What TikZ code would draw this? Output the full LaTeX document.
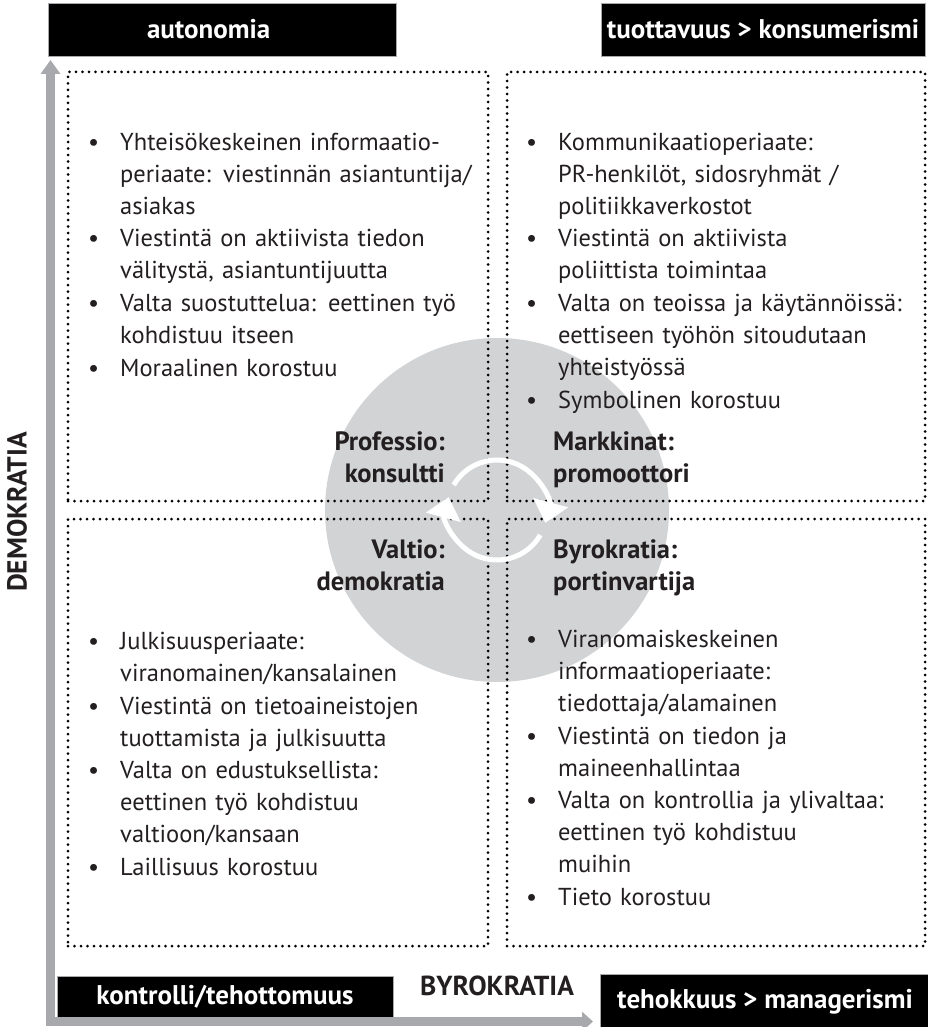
\documentclass[tikz,border=0pt]{standalone}
\usepackage{fontspec}
\setmainfont{PT Sans}
\usepackage{enumitem}
\usetikzlibrary{positioning,arrows.meta,calc}
\definecolor{axisgray}{RGB}{167,169,172}
\definecolor{hubgray}{RGB}{209,211,212}
\definecolor{inktext}{RGB}{35,31,32}
\setlist[itemize]{label=\textbullet, leftmargin=36pt, labelsep=21pt, itemsep=0.8pt, topsep=0pt, parsep=0pt, partopsep=0pt}

\begin{document}
\begin{tikzpicture}[
                x=1pt, y=-1pt,
                font=\fontsize{24.5}{32}\selectfont,
                text=inktext,
                headbox/.style={fill=black, draw=axisgray, line width=0.8pt, text=white, font=\fontsize{27}{30}\selectfont\bfseries, inner sep=0pt},
                quadrant/.style={rectangle, draw=black, line width=3pt, dash pattern=on 0pt off 6.5pt, line cap=round, inner sep=0pt},
                bullets/.style={anchor=north west, inner sep=0pt, text width=420pt, align=left},
                rolelabel/.style={font=\fontsize{26.5}{32.5}\selectfont\bfseries, inner sep=0pt},
                axislabel/.style={font=\fontsize{27.5}{30}\selectfont\bfseries, inner sep=0pt},
                cyclearrow/.style={draw=white, line width=5pt, -{Triangle[width=35pt, length=21pt]}}
                ]
                \useasboundingbox (0,0) rectangle (928,1027);

                % grey disc behind the four fields
                \node[circle, fill=hubgray, minimum size=344pt, inner sep=0pt] (hub) at (497,510) {};

                \node[quadrant, minimum width=420pt, minimum height=429pt] (tl) at (278,286.5) {};
                \node[quadrant, minimum width=418pt, minimum height=429pt] (tr) at (716,286.5) {};
                \node[quadrant, minimum width=420pt, minimum height=427pt] (bl) at (278,732.5) {};
                \node[quadrant, minimum width=418pt, minimum height=427pt] (br) at (716,732.5) {};

                \node[headbox, minimum width=348pt, minimum height=53pt, text width=150pt, inner xsep=99pt, align=left] (autonomia) at (222,29.5) {autonomia};
                \node[headbox, minimum width=324pt, minimum height=53pt] (tuottavuus) at (763,29.5) {tuottavuus > konsumerismi};
                \node[headbox, minimum width=336pt, minimum height=41pt] (kontrolli) at (225,996.5) {kontrolli/tehottomuus};
                \node[headbox, minimum width=330pt, minimum height=56pt] (tehokkuus) at (765,1002) {tehokkuus > managerismi};

                \node[axislabel] (byro) at (497,986) {BYROKRATIA};
                \node[axislabel, rotate=90] (demo) at (17,512) {DEMOKRATIA};

                % L-shaped axis
                \coordinate (ytip) at (50.5,60);
                \coordinate (origin) at (50.5,1021.5);
                \coordinate (xtip) at (593,1021.5);
                \draw[axisgray, line width=9pt, line join=miter, {Triangle[width=19pt, length=14pt]}-{Triangle[width=19pt, length=11pt]}] (ytip) -- (origin) -- (xtip);

                \node[bullets] (tltext) at (84,118) {%
                \begin{itemize}
                \item Yhteisökeskeinen informaatio-\\periaate: viestinnän asiantuntija/\\asiakas
                \item Viestintä on aktiivista tiedon\\välitystä, asiantuntijuutta
                \item Valta suostuttelua: eettinen työ\\kohdistuu itseen
                \item Moraalinen korostuu
                \end{itemize}};
                \node[bullets] (trtext) at (522,118) {%
                \begin{itemize}
                \item Kommunikaatioperiaate:\\PR-henkilöt, sidosryhmät /\\politiikkaverkostot
                \item Viestintä on aktiivista\\poliittista toimintaa
                \item Valta on teoissa ja käytännöissä:\\eettiseen työhön sitoudutaan\\yhteistyössä
                \item Symbolinen korostuu
                \end{itemize}};
                \node[bullets] (bltext) at (84,617) {%
                \begin{itemize}
                \item Julkisuusperiaate:\\viranomainen/kansalainen
                \item Viestintä on tietoaineistojen\\tuottamista ja julkisuutta
                \item Valta on edustuksellista:\\eettinen työ kohdistuu\\valtioon/kansaan
                \item Laillisuus korostuu
                \end{itemize}};
                \node[bullets] (brtext) at (522,615) {%
                \begin{itemize}
                \item Viranomaiskeskeinen\\informaatioperiaate:\\tiedottaja/alamainen
                \item Viestintä on tiedon ja\\maineenhallintaa
                \item Valta on kontrollia ja ylivaltaa:\\eettinen työ kohdistuu\\muihin
                \item Tieto korostuu
                \end{itemize}};

                \node[rolelabel, anchor=north east, align=right] (profession) at (445,431) {Professio:\\konsultti};
                \node[rolelabel, anchor=north west, align=left] (market) at (553,431) {Markkinat:\\promoottori};
                \node[rolelabel, anchor=north east, align=right] (state) at (445,539) {Valtio:\\demokratia};
                \node[rolelabel, anchor=north west, align=left] (bureau) at (553,539) {Byrokratia:\\portinvartija};

                % white cycle in the middle
                \draw[cyclearrow] ($(hub)+(-150:50)$) arc[start angle=-150, end angle=15, radius=50];
                \draw[cyclearrow] ($(hub)+(30:50)$) arc[start angle=30, end angle=195, radius=50];
            \end{tikzpicture}
\end{document}
